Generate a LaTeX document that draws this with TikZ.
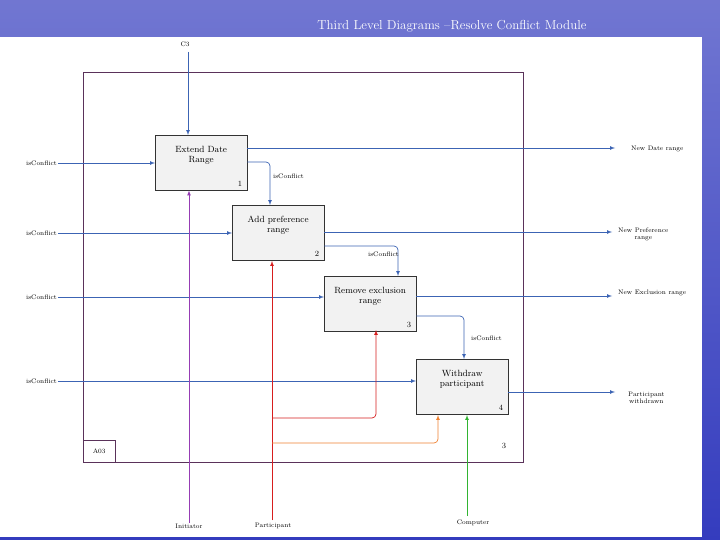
\documentclass[tikz,border=0pt]{standalone}
\usepackage{tikz}
\usetikzlibrary{positioning}
\definecolor{slideblue}{RGB}{52,60,190}
\definecolor{flowblue}{RGB}{60,100,180}
\definecolor{frameline}{RGB}{90,50,90}
\definecolor{initpurple}{RGB}{150,60,180}
\definecolor{partred}{RGB}{215,30,30}
\definecolor{partorange}{RGB}{240,130,50}
\definecolor{compgreen}{RGB}{50,180,50}
\tikzset{%
    act/.style={draw=black!80,fill=black!5,minimum width=92pt,minimum height=55pt,anchor=north west,inner sep=0pt},
    lbl/.style={font=\fontsize{6.5}{7}\selectfont,inner sep=1pt,align=center},
    actlbl/.style={font=\fontsize{9}{10}\selectfont,align=center,anchor=north,inner sep=0pt}
}
\begin{document}
\begin{tikzpicture}[x=1pt,y=-1pt,
            flow/.style={draw=flowblue,line width=0.7pt,-latex},
            mech/.style={-latex,line width=0.7pt,rounded corners=4pt}
            ]
            \useasboundingbox (0,0) rectangle (720,540);
            \shade[top color=slideblue!70!white,bottom color=slideblue] (0,0) rectangle (720,540);
            \fill[white] (0,37) rectangle (702,537);
            \node[white,font=\fontsize{13}{14}\selectfont] (title) at (452,26) {Third Level Diagrams --Resolve Conflict Module};

            % frame
            \draw[frameline,line width=0.7pt] (83,72) rectangle (523,462);
            \node[draw=frameline,minimum width=32pt,minimum height=22pt,anchor=south west,lbl] (a03) at (83,462) {A03};
            \node[lbl,font=\fontsize{8}{9}\selectfont] (nf) at (504,446) {3};

            % activities
            \node[act] (b1) at (155,135){};
            \node[act] (b2) at (232,205){};
            \node[act] (b3) at (324,276){};
            \node[act] (b4) at (416,359){};
            \node[actlbl] at ([yshift=-11pt]b1.north) {Extend Date\\Range};
            \node[actlbl] at ([yshift=-11pt]b2.north) {Add preference\\range};
            \node[actlbl] at ([yshift=-11pt]b3.north) {Remove exclusion\\range};
            \node[actlbl] at ([yshift=-11pt]b4.north) {Withdraw\\participant};
            \node[lbl,font=\fontsize{8}{9}\selectfont,anchor=south east] at ([shift={(-4pt,3pt)}]b1.south east) {1};
            \node[lbl,font=\fontsize{8}{9}\selectfont,anchor=south east] at ([shift={(-4pt,3pt)}]b2.south east) {2};
            \node[lbl,font=\fontsize{8}{9}\selectfont,anchor=south east] at ([shift={(-4pt,3pt)}]b3.south east) {3};
            \node[lbl,font=\fontsize{8}{9}\selectfont,anchor=south east] at ([shift={(-4pt,3pt)}]b4.south east) {4};

            % control
            \node[lbl] (c3) at (185,44) {C3};
            \coordinate (c3s) at (188,52);
            \draw[flow] (c3s) -- (c3s |- b1.north);

            % inputs
            \node[lbl,anchor=west] (i1) at (25,163) {isConflict};
            \node[lbl,anchor=west] (i2) at (25,233) {isConflict};
            \node[lbl,anchor=west] (i3) at (25,297) {isConflict};
            \node[lbl,anchor=west] (i4) at (25,381) {isConflict};
            \draw[flow] (i1.east) -- (i1.east -| b1.west);
            \draw[flow] (i2.east) -- (i2.east -| b2.west);
            \draw[flow] (i3.east) -- (i3.east -| b3.west);
            \draw[flow] (i4.east) -- (i4.east -| b4.west);

            % outputs
            \node[lbl,anchor=west] (o1) at (630,149) {New Date range};
            \node[lbl,anchor=west] (o2) at (617,234) {New Preference\\range};
            \node[lbl,anchor=west] (o3) at (617,293) {New Exclusion range};
            \node[lbl,anchor=west] (o4) at (627,398) {Participant\\withdrawn};
            \coordinate (e1) at (615,148);
            \coordinate (e2) at (612,232);
            \coordinate (e3) at (612,296);
            \coordinate (e4) at (615,392);
            \draw[flow] (e1 -| b1.east) -- (e1);
            \draw[flow] (e2 -| b2.east) -- (e2);
            \draw[flow] (e3 -| b3.east) -- (e3);
            \draw[flow] (e4 -| b4.east) -- (e4);

            % internal conflicts
            \draw[flow,rounded corners=4pt] (b1.east |- 0,162) -- (270,162) -- (270,205);
            \draw[flow,rounded corners=4pt] (b2.east |- 0,246) -- (398,246) -- (398,276);
            \draw[flow,rounded corners=4pt] (b3.east |- 0,316) -- (464,316) -- (464,359);
            \node[lbl,anchor=west] (k1) at (272,176) {isConflict};
            \node[lbl,anchor=west] (k2) at (367,254) {isConflict};
            \node[lbl,anchor=west] (k3) at (470,338) {isConflict};

            % mechanisms
            \node[lbl] (m1) at (189,526) {Initiator};
            \node[lbl] (m2) at (273,526) {Participant};
            \node[lbl] (m3) at (473,523) {Computer};
            \draw[mech,draw=initpurple,fill=initpurple] (m1.north) -- (m1.north |- b1.south);
            \draw[mech,draw=partred,fill=partred] (272,520) -- (272,261);
            \draw[mech,draw=partred] (272,418) -- (376,418) -- (376,330);
            \draw[mech,draw=partorange] (272,443) -- (438,443) -- (438,415);
            \draw[mech,draw=compgreen] (467,516) -- (467,415);
        \end{tikzpicture}
\end{document}
